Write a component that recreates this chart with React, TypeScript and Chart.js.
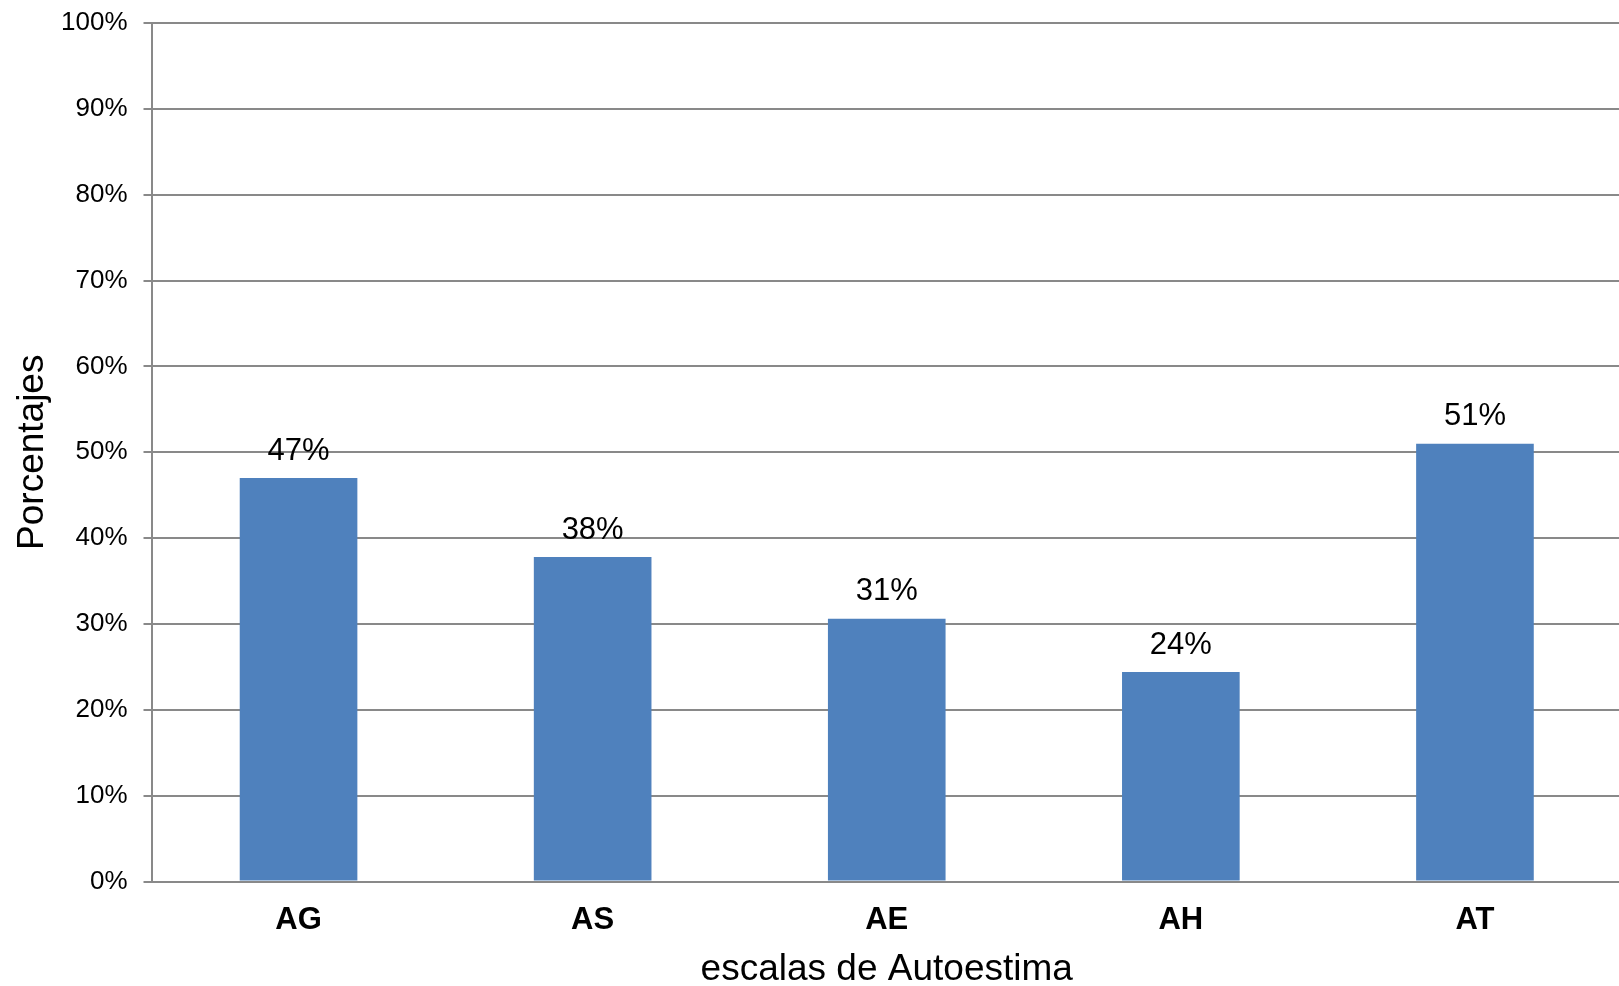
import React, { useEffect, useRef } from "react";
import { Chart, registerables } from "chart.js";

Chart.register(...registerables);

const categories = ["AG", "AS", "AE", "AH", "AT"];
const values = [47, 37.8, 30.6, 24.4, 51];
const yTicks = [0, 10, 20, 30, 40, 50, 60, 70, 80, 90, 100];
const xTitle = "escalas de Autoestima";
const yTitle = "Porcentajes";

const FONT = '"Liberation Sans", Arial, sans-serif';
const GRID = "#898989";

const dataLabels = {
  id: "dataLabels",
  afterDatasetsDraw(chart: any) {
    const ctx = chart.ctx;
    const meta = chart.getDatasetMeta(0);
    ctx.save();
    ctx.font = `31px ${FONT}`;
    ctx.fillStyle = "#000";
    ctx.textAlign = "center";
    ctx.textBaseline = "middle";
    meta.data.forEach((bar: any, i: number) => {
      const v = chart.data.datasets[0].data[i];
      ctx.fillText(Math.round(v) + "%", bar.x, bar.y - 27);
    });
    ctx.restore();
  },
};

export default function App() {
  const ref = useRef<HTMLCanvasElement | null>(null);
  useEffect(() => {
    if (!ref.current) return;
    const chart = new Chart(ref.current, {
      type: "bar",
      data: {
        labels: categories,
        datasets: [
          {
            data: values,
            backgroundColor: "#4F81BD",
            borderWidth: 0,
            categoryPercentage: 1,
            barPercentage: 0.4,
          },
        ],
      },
      options: {
        responsive: false,
        animation: false,
        devicePixelRatio: 1,
        layout: { padding: { top: 23, right: 0, bottom: 0, left: 0 } },
        plugins: {
          legend: { display: false },
          tooltip: { enabled: false },
        },
        scales: {
          x: {
            type: "category",
            offset: true,
            grid: { display: false, drawTicks: false },
            border: { display: true, color: GRID, width: 2 },
            ticks: {
              color: "#000",
              padding: 20,
              font: { family: FONT, size: 31, weight: "bold" },
            },
            title: {
              display: true,
              text: xTitle,
              color: "#000",
              font: { family: FONT, size: 37, lineHeight: 0.9 },
              padding: { top: 0, bottom: 0 },
            },
            afterFit(scale: any) {
              scale.height = 104.5;
            },
          },
          y: {
            min: 0,
            max: 100,
            afterBuildTicks(scale: any) {
              scale.ticks = yTicks.map((v) => ({ value: v }));
            },
            grid: { color: GRID, lineWidth: 2, tickLength: 8, drawTicks: true },
            border: { display: true, color: GRID, width: 2 },
            ticks: {
              color: "#000",
              padding: 16,
              font: { family: FONT, size: 26 },
              callback: (v: any) => v + "%",
            },
            title: {
              display: true,
              text: yTitle,
              color: "#000",
              font: { family: FONT, size: 37 },
              padding: { top: 11, bottom: 0 },
            },
            afterFit(scale: any) {
              scale.width = 151.5;
              scale.paddingTop = 0;
              scale.paddingBottom = 0;
            },
          },
        },
      },
      plugins: [dataLabels],
    });
    return () => chart.destroy();
  }, []);
  return (
    <div style={{ position: "absolute", left: 0, top: 0, width: 1619, height: 986, overflow: "hidden", background: "#fff" }}>
      <canvas ref={ref} width={1622} height={986} style={{ display: "block" }} />
    </div>
  );
}
